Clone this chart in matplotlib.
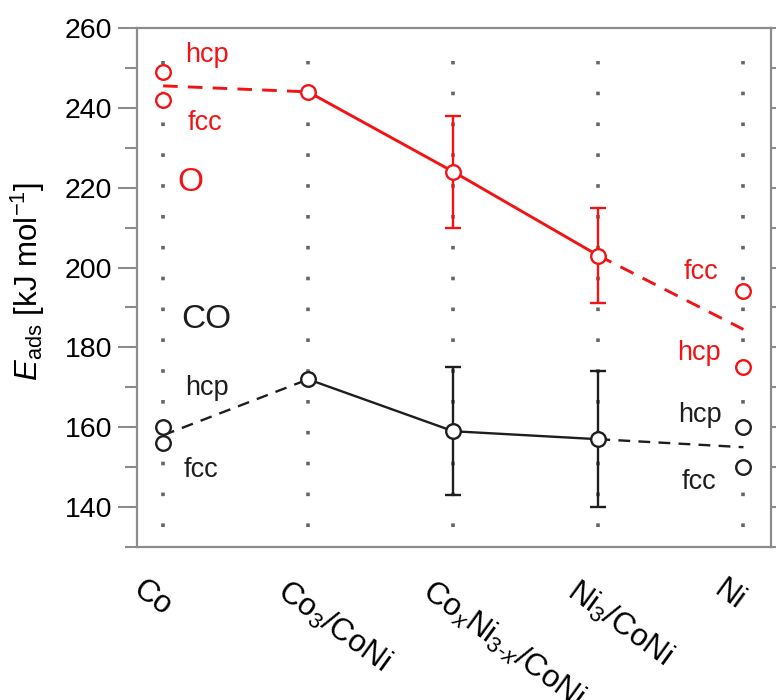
import matplotlib
matplotlib.use("Agg")
import matplotlib.pyplot as plt
from matplotlib.ticker import MultipleLocator
from matplotlib.transforms import ScaledTranslation

plt.rcParams['font.family'] = ['Liberation Sans', 'DejaVu Sans']
plt.rcParams['mathtext.fontset'] = 'custom'
plt.rcParams['mathtext.rm'] = 'Liberation Sans'
plt.rcParams['mathtext.it'] = 'Liberation Sans:italic'
plt.rcParams['mathtext.bf'] = 'Liberation Sans:bold'

# surfaces
surfaces = ['Co', 'Co$_3$/CoNi', 'Co$_x$Ni$_{3\u2010x}$/CoNi', 'Ni$_3$/CoNi', 'Ni']
xpos = [0, 1, 2, 3, 4]

# O adsorption energies
o_co_hcp, o_co_fcc = 249, 242
o_ni_fcc, o_ni_hcp = 194, 175
o_mid = [244, 224, 203]
o_err_up = [0, 14, 12]
o_err_dn = [0, 14, 12]

# CO adsorption energies
co_co_hcp, co_co_fcc = 160, 156
co_ni_hcp, co_ni_fcc = 160, 150
co_mid = [172, 159, 157]
co_err_up = [0, 16, 17]
co_err_dn = [0, 16, 17]

RED = '#f21414'
BLK = '#1e1e1e'
GRID = '#666666'
SPINE = '#8c8c8c'

fig = plt.figure(figsize=(7.76, 7.00), dpi=100)
ax = fig.add_axes([137 / 776, 153 / 700, 634 / 776, 519 / 700])

# dotted guides at each surface
for x in xpos:
    ax.plot([x, x], [135.0, 251.7], color=GRID, lw=2.6, solid_capstyle='butt',
            dashes=(1, 7.54), dash_capstyle='butt', zorder=1)

mk = dict(marker='o', ms=10.5, mew=1.7, mfc='white', linestyle='none', zorder=5)


def draw_series(color, mid, up, dn, pure_co, pure_ni, lw):
    co_avg = (pure_co[0] + pure_co[1]) / 2
    ni_avg = (pure_ni[0] + pure_ni[1]) / 2
    ax.plot([0, 1], [co_avg, mid[0]], color=color, lw=lw, dashes=(5, 3.5), zorder=3)
    ax.plot([3, 4], [mid[2], ni_avg], color=color, lw=lw, dashes=(5, 3.5), zorder=3)
    ax.plot([1, 2, 3], mid, color=color, lw=lw, zorder=3)
    ax.errorbar([2, 3], mid[1:], yerr=[dn[1:], up[1:]], fmt='none', ecolor=color,
                elinewidth=1.7, capsize=6, capthick=1.7, zorder=4)
    ax.plot([1, 2, 3], mid, color=color, mec=color, **mk)
    ax.plot([0, 0], pure_co, color=color, mec=color, **mk)
    ax.plot([4, 4], pure_ni, color=color, mec=color, **mk)


draw_series(RED, o_mid, o_err_up, o_err_dn, [o_co_hcp, o_co_fcc], [o_ni_fcc, o_ni_hcp], 2.1)
draw_series(BLK, co_mid, co_err_up, co_err_dn, [co_co_hcp, co_co_fcc], [co_ni_hcp, co_ni_fcc], 1.7)

fs = 19.5
ax.text(0.30, 253.3, 'hcp', color=RED, fontsize=fs, ha='center', va='center')
ax.text(0.29, 236.3, 'fcc', color=RED, fontsize=fs, ha='center', va='center')
ax.text(0.19, 221.3, 'O', color=RED, fontsize=24, ha='center', va='center')
ax.text(0.30, 187.0, 'CO', color=BLK, fontsize=24, ha='center', va='center')
ax.text(0.30, 169.8, 'hcp', color=BLK, fontsize=fs, ha='center', va='center')
ax.text(0.26, 149.3, 'fcc', color=BLK, fontsize=fs, ha='center', va='center')
ax.text(3.71, 199.0, 'fcc', color=RED, fontsize=fs, ha='center', va='center')
ax.text(3.69, 178.5, 'hcp', color=RED, fontsize=fs, ha='center', va='center')
ax.text(3.70, 163.0, 'hcp', color=BLK, fontsize=fs, ha='center', va='center')
ax.text(3.69, 146.3, 'fcc', color=BLK, fontsize=fs, ha='center', va='center')

ax.set_xlim(-0.18, 4.19)
ax.set_ylim(130, 260)
ax.yaxis.set_major_locator(MultipleLocator(20))
ax.yaxis.set_minor_locator(MultipleLocator(10))
ax.tick_params(axis='y', which='major', direction='out', length=14, width=1.5,
               color=SPINE, labelsize=20.5, pad=4, right=True)
ax.tick_params(axis='y', which='minor', direction='out', length=9, width=1.5,
               color=SPINE, right=True)
ax.tick_params(axis='y', which='both', labelright=False)
for side in ['left', 'right', 'top', 'bottom']:
    ax.spines[side].set_color(SPINE)
    ax.spines[side].set_linewidth(1.6)

ax.set_xticks(xpos)
ax.set_xticklabels(surfaces, rotation=-36, ha='left', va='top',
                   rotation_mode='anchor', fontsize=22.5)
ax.tick_params(axis='x', length=0, pad=20)
shift = ScaledTranslation(-18 / 100, 0, fig.dpi_scale_trans)
for lbl in ax.get_xticklabels():
    lbl.set_transform(lbl.get_transform() + shift)

ax.set_ylabel('$E$$_{\\rm ads}$ [kJ mol$^{-1}$]', fontsize=22.5)
ax.yaxis.set_label_coords(-0.142, 0.512)

fig.savefig('out.png', dpi=100)
